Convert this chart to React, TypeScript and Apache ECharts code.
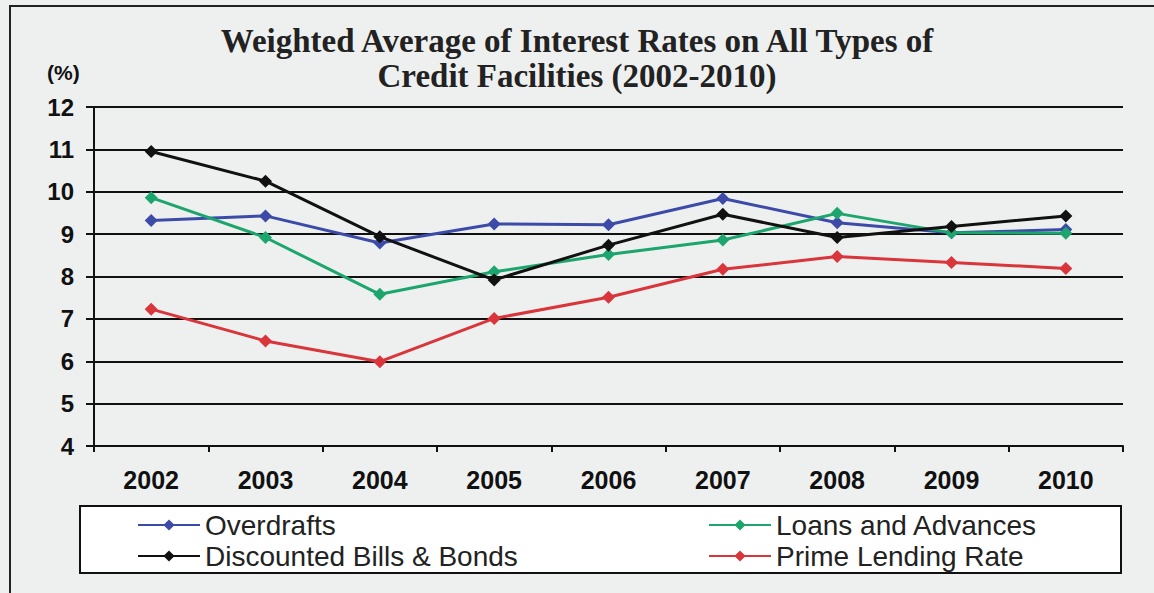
import React, { useEffect, useRef } from "react";
import * as echarts from "echarts";

const years = ["2002", "2003", "2004", "2005", "2006", "2007", "2008", "2009", "2010"];
const overdrafts = [9.32, 9.43, 8.79, 9.24, 9.22, 9.84, 9.27, 9.03, 9.11];
const loansAdvances = [9.86, 8.92, 7.58, 8.11, 8.52, 8.86, 9.49, 9.03, 9.02];
const discountedBills = [10.95, 10.25, 8.94, 7.92, 8.74, 9.47, 8.92, 9.18, 9.43];
const primeLending = [7.23, 6.48, 5.99, 7.01, 7.51, 8.17, 8.47, 8.33, 8.19];

const seriesNames = ["Overdrafts", "Loans and Advances", "Discounted Bills & Bonds", "Prime Lending Rate"];
const seriesColors = ["#3D4BA8", "#1CA56C", "#111111", "#D9353B"];
const titleLines = ["Weighted Average of Interest Rates on All Types of", "Credit Facilities (2002-2010)"];
const yTicks = { min: 4, max: 12, interval: 1 };

export default function App() {
  const ref = useRef<HTMLDivElement>(null);
  useEffect(() => {
    if (!ref.current) return;
    const chart = echarts.init(ref.current, undefined, { renderer: "svg" });
    const data = [overdrafts, loansAdvances, discountedBills, primeLending];
    const titleFont = "bold 33px 'Liberation Serif', 'Times New Roman', serif";
    const legendCommon = {
      orient: "vertical",
      top: 506,
      itemWidth: 62,
      itemHeight: 14,
      itemGap: 3,
      textStyle: {
        fontFamily: "'Liberation Sans', Arial, sans-serif",
        fontSize: 28,
        lineHeight: 26,
        color: "#222",
      },
    };
    chart.setOption({
      animation: false,
      backgroundColor: "#EEF0EF",
      graphic: [
        {
          type: "rect",
          z: 0,
          shape: { x: 10, y: 6, width: 1170, height: 620 },
          style: { fill: "#EEF0EF", stroke: "#222", lineWidth: 2 },
        },
        {
          type: "rect",
          z: 1,
          shape: { x: 80, y: 506, width: 1041, height: 67 },
          style: { fill: "#FFFFFF", stroke: "#111", lineWidth: 2 },
        },
        {
          type: "text",
          z: 2,
          x: 47,
          y: 72,
          style: {
            text: "(%)",
            fill: "#111",
            font: "bold 21px 'Liberation Sans', Arial, sans-serif",
            verticalAlign: "middle",
          },
        },
        {
          type: "text",
          z: 2,
          x: 577,
          y: 41,
          style: {
            text: titleLines[0],
            fill: "#222",
            font: titleFont,
            textAlign: "center",
            verticalAlign: "middle",
          },
        },
        {
          type: "text",
          z: 2,
          x: 577,
          y: 76,
          style: {
            text: titleLines[1],
            fill: "#222",
            font: titleFont,
            textAlign: "center",
            verticalAlign: "middle",
          },
        },
      ],
      grid: {
        left: 94,
        right: 31,
        top: 107,
        bottom: 147,
        show: true,
        backgroundColor: "#FBF8DE",
        borderColor: "#111",
        borderWidth: 2,
      },
      xAxis: {
        type: "category",
        data: years,
        boundaryGap: true,
        axisLine: { lineStyle: { color: "#111", width: 2 } },
        axisTick: { show: true, length: 6, inside: false, lineStyle: { color: "#111", width: 2 } },
        axisLabel: {
          margin: 21,
          color: "#111",
          fontFamily: "'Liberation Sans', Arial, sans-serif",
          fontWeight: "bold",
          fontSize: 25,
        },
        splitLine: { show: false },
      },
      yAxis: {
        type: "value",
        min: yTicks.min,
        max: yTicks.max,
        interval: yTicks.interval,
        axisLine: { show: true, lineStyle: { color: "#111", width: 2 } },
        axisTick: { show: true, length: 8, lineStyle: { color: "#111", width: 2 } },
        axisLabel: {
          margin: 20,
          color: "#111",
          fontFamily: "'Liberation Sans', Arial, sans-serif",
          fontWeight: "bold",
          fontSize: 24,
        },
        splitLine: { show: true, lineStyle: { color: "#111", width: 2 } },
      },
      legend: [
        { ...legendCommon, data: [seriesNames[0], seriesNames[2]], left: 132 },
        { ...legendCommon, data: [seriesNames[1], seriesNames[3]], left: 703 },
      ],
      series: seriesNames.map((name, i) => ({
        name,
        type: "line",
        data: data[i],
        symbol: "diamond",
        symbolSize: 13,
        lineStyle: { color: seriesColors[i], width: 3 },
        itemStyle: { color: seriesColors[i] },
        z: i === 2 ? 5 : 3,
      })),
    });
    return () => chart.dispose();
  }, []);
  return (
    <div
      ref={ref}
      style={{ position: "fixed", left: 0, top: 0, width: 1154, height: 593 }}
    />
  );
}
